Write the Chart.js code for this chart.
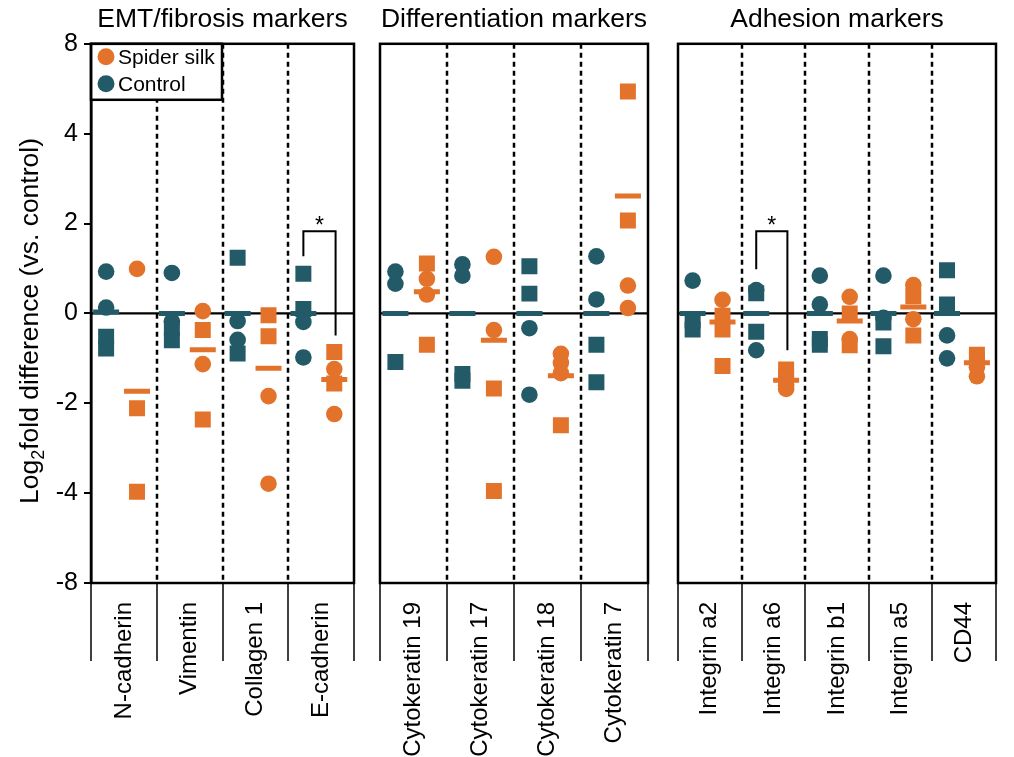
<!DOCTYPE html>
<html>
<head>
<meta charset="utf-8">
<script src="https://cdn.jsdelivr.net/npm/chart.js@4/dist/chart.umd.min.js"></script>
<style>
  html, body { margin: 0; padding: 0; background: #fff; }
  #wrap { position: relative; width: 1014px; height: 757px; }
  #wrap canvas { position: absolute; left: 0; top: 0; }
</style>
</head>
<body>
<div id="wrap">
  <canvas id="panel0" width="1014" height="757"></canvas>
  <canvas id="panel1" width="1014" height="757"></canvas>
  <canvas id="panel2" width="1014" height="757"></canvas>
</div>
<script>
// ---- data -------------------------------------------------------------
const panelTitles = ['EMT/fibrosis markers', 'Differentiation markers', 'Adhesion markers'];
const panelCategories = [
  ['N-cadherin', 'Vimentin', 'Collagen 1', 'E-cadherin'],
  ['Cytokeratin 19', 'Cytokeratin 17', 'Cytokeratin 18', 'Cytokeratin 7'],
  ['Integrin a2', 'Integrin a6', 'Integrin b1', 'Integrin a5', 'CD44']
];
const yTicks = [-8, -4, -2, 0, 2, 4, 8];
const seriesNames = ['Spider silk', 'Control'];

// log2 fold differences per marker (13 markers, in panel order)
const controlCircles = [[0.93, 0.13], [0.90, -0.18], [-0.17, -0.59], [-0.19, -0.98],
  [0.93, 0.66], [1.09, 0.84], [-0.33, -1.81], [1.27, 0.31],
  [0.73], [0.52, -0.82], [0.84, 0.20], [0.84, -0.10], [-0.49, -1.00]];
const controlSquares = [[-0.52, -0.78], [-0.32, -0.60], [1.24, -0.89], [0.88, 0.10],
  [-1.08], [-1.35, -1.50], [1.05, 0.44], [-0.70, -1.53],
  [-0.16, -0.36], [0.45, -0.41], [-0.57, -0.70], [-0.20, -0.73], [0.96, 0.20]];
const controlMeans = [0.03, 0, 0, 0, 0, 0, 0, 0, 0, 0, 0, 0, 0];

const silkCircles = [[0.99], [0.05, -1.13], [-1.84, -3.79], [-1.24, -2.24],
  [0.77, 0.42], [1.26, -0.37], [-0.90, -1.10, -1.33], [0.62, 0.12],
  [0.30], [-1.60, -1.68], [0.37, -0.57], [0.63, -0.13], [-1.20, -1.40]];
const silkSquares = [[-2.11, -3.97], [-0.37, -2.36], [-0.04, -0.51], [-0.86, -1.56],
  [1.11, -0.70], [-1.67, -3.95], [-2.49], [5.88, 2.07],
  [-0.05, -0.36, -1.17], [-1.25, -1.42], [0.00, -0.71], [0.38, -0.49], [-0.92, -1.05]];
const silkMeans = [-1.73, -0.81, -1.22, -1.47, 0.48, -0.60, -1.39, 2.61, -0.19, -1.49, -0.17, 0.14, -1.10];

// significance brackets: bar height and the two leg ends
const sigMarker = ['E-cadherin', 'Integrin a6'];
const sigTop = [1.83, 1.83];
const sigControlEnd = [1.27, 0.98];
const sigSilkEnd = [-0.49, -0.82];

// ---- styling ------------------------------------------------------------
const SILK = '#E3722B';
const CTRL = '#235A68';
const FONT = '"Liberation Sans", Arial, Helvetica, sans-serif';
const CTRL_OFFSET = -0.27, SILK_OFFSET = 0.20;
const areas = [[91, 354], [380, 648], [678, 1012]];
const AXIS_BOTTOM_HEIGHT = 174;

// axis is linear inside ±4 and compressed by half beyond it
const fwd = v => Math.abs(v) <= 4 ? v : Math.sign(v) * (4 + (Math.abs(v) - 4) / 2);
const inv = p => Math.abs(p) <= 4 ? p : Math.sign(p) * (4 + (Math.abs(p) - 4) * 2);

class SegmentedScale extends Chart.LinearScale {
  static id = 'segmented';
  static defaults = Chart.LinearScale.defaults;
  buildTicks() { return yTicks.map(v => ({ value: v })); }
  getPixelForValue(value) {
    const a = fwd(this.min), b = fwd(this.max);
    return this.getPixelForDecimal((fwd(value) - a) / (b - a));
  }
  getValueForPixel(pixel) {
    const a = fwd(this.min), b = fwd(this.max);
    return inv(a + this.getDecimalForPixel(pixel) * (b - a));
  }
}
Chart.register(SegmentedScale);

function scatterPoints(groups, offset) {
  const out = [];
  groups.forEach((arr, i) => arr.forEach(v => out.push({ x: i + offset, y: v })));
  return out;
}
function meanPoints(list, offset) {
  return list.map((v, i) => ({ x: i + offset, y: v }));
}

const decor = {
  id: 'decor',
  beforeDatasetsDraw(chart, args, opts) {
    const { ctx, chartArea: ca, scales: { x, y } } = chart;
    const n = opts.cats.length;
    ctx.save();
    // dashed separators between markers
    ctx.strokeStyle = '#000';
    ctx.lineWidth = 2.5;
    ctx.setLineDash([5, 4]);
    for (let i = 1; i < n; i++) {
      const px = Math.round(x.getPixelForValue(i - 0.5));
      ctx.beginPath();
      ctx.moveTo(px, ca.top);
      ctx.lineTo(px, ca.bottom);
      ctx.stroke();
    }
    ctx.setLineDash([]);
    // zero line
    ctx.lineWidth = 2.2;
    const y0 = y.getPixelForValue(0);
    ctx.beginPath();
    ctx.moveTo(ca.left, y0);
    ctx.lineTo(ca.right, y0);
    ctx.stroke();
    ctx.restore();
  },
  afterDraw(chart, args, opts) {
    const { ctx, chartArea: ca, scales: { x, y } } = chart;
    const n = opts.cats.length;
    ctx.save();
    ctx.strokeStyle = '#000';
    ctx.fillStyle = '#000';
    // separators under the axis
    ctx.lineWidth = 1.5;
    for (let i = 0; i <= n; i++) {
      const px = Math.round(x.getPixelForValue(i - 0.5));
      ctx.beginPath();
      ctx.moveTo(px, ca.bottom);
      ctx.lineTo(px, ca.bottom + 78);
      ctx.stroke();
    }
    // significance brackets
    ctx.lineWidth = 2;
    sigMarker.forEach((name, k) => {
      const i = opts.cats.indexOf(name);
      if (i < 0) return;
      const xa = x.getPixelForValue(i + CTRL_OFFSET);
      const xb = x.getPixelForValue(i + SILK_OFFSET + 0.02);
      const yt = y.getPixelForValue(sigTop[k]);
      ctx.beginPath();
      ctx.moveTo(xa, y.getPixelForValue(sigControlEnd[k]));
      ctx.lineTo(xa, yt);
      ctx.lineTo(xb, yt);
      ctx.lineTo(xb, y.getPixelForValue(sigSilkEnd[k]));
      ctx.stroke();
      ctx.font = '23px ' + FONT;
      ctx.textAlign = 'center';
      ctx.textBaseline = 'alphabetic';
      ctx.fillText('*', (xa + xb) / 2, yt + 2);
    });
    // legend box
    if (opts.legend) {
      const bx = ca.left, by = ca.top, bw = 131, bh = 56;
      ctx.fillStyle = '#fff';
      ctx.fillRect(bx, by, bw, bh);
      ctx.lineWidth = 2.5;
      ctx.strokeRect(bx, by, bw, bh);
      const items = [[seriesNames[0], SILK, by + 13], [seriesNames[1], CTRL, by + 40]];
      ctx.font = '21px ' + FONT;
      ctx.textAlign = 'left';
      ctx.textBaseline = 'middle';
      items.forEach(([label, col, cy]) => {
        ctx.fillStyle = col;
        ctx.beginPath();
        ctx.arc(bx + 15, cy, 8.5, 0, Math.PI * 2);
        ctx.fill();
        ctx.fillStyle = '#000';
        ctx.fillText(label, bx + 27, cy + 1);
      });
    }
    // y-axis title with subscript
    if (opts.yTitle) {
      ctx.translate(31, 321);
      ctx.rotate(-Math.PI / 2);
      ctx.fillStyle = '#000';
      ctx.textBaseline = 'middle';
      ctx.textAlign = 'left';
      const big = '26.5px ' + FONT, small = '18px ' + FONT;
      const p1 = 'Log', p2 = '2', p3 = 'fold difference (vs. control)';
      ctx.font = big; const w1 = ctx.measureText(p1).width, w3 = ctx.measureText(p3).width;
      ctx.font = small; const w2 = ctx.measureText(p2).width;
      let sx = -(w1 + w2 + w3) / 2;
      ctx.font = big; ctx.fillText(p1, sx, 0); sx += w1;
      ctx.font = small; ctx.fillText(p2, sx, 8); sx += w2;
      ctx.font = big; ctx.fillText(p3, sx, 0);
    }
    ctx.restore();
    // panel frame
    ctx.save();
    ctx.strokeStyle = '#000';
    ctx.lineWidth = 2.5;
    ctx.strokeRect(ca.left, ca.top, ca.right - ca.left, ca.bottom - ca.top);
    ctx.restore();
  }
};

let start = 0;
panelCategories.forEach((cats, p) => {
  const end = start + cats.length;
  const sl = arr => arr.slice(start, end);
  const first = p === 0;
  new Chart(document.getElementById('panel' + p), {
    type: 'scatter',
    data: {
      datasets: [
        { label: 'Control mean', data: meanPoints(sl(controlMeans), CTRL_OFFSET),
          pointStyle: 'line', pointRadius: 13, pointBorderWidth: 5, borderColor: CTRL, backgroundColor: CTRL },
        { label: 'Spider silk mean', data: meanPoints(sl(silkMeans), SILK_OFFSET),
          pointStyle: 'line', pointRadius: 13, pointBorderWidth: 5, borderColor: SILK, backgroundColor: SILK },
        { label: 'Control', data: scatterPoints(sl(controlCircles), CTRL_OFFSET),
          pointStyle: 'circle', pointRadius: 8.3, pointBorderWidth: 0, backgroundColor: CTRL, borderColor: CTRL },
        { label: 'Control', data: scatterPoints(sl(controlSquares), CTRL_OFFSET),
          pointStyle: 'rect', pointRadius: 11.3, pointBorderWidth: 0, backgroundColor: CTRL, borderColor: CTRL },
        { label: 'Spider silk', data: scatterPoints(sl(silkCircles), SILK_OFFSET),
          pointStyle: 'circle', pointRadius: 8.3, pointBorderWidth: 0, backgroundColor: SILK, borderColor: SILK },
        { label: 'Spider silk', data: scatterPoints(sl(silkSquares), SILK_OFFSET),
          pointStyle: 'rect', pointRadius: 11.3, pointBorderWidth: 0, backgroundColor: SILK, borderColor: SILK }
      ]
    },
    options: {
      responsive: false,
      animation: false,
      events: [],
      layout: { padding: { left: first ? 0 : areas[p][0], right: 1014 - areas[p][1], top: 0, bottom: 0 } },
      scales: {
        x: {
          type: 'linear',
          min: -0.5, max: cats.length - 0.5,
          afterBuildTicks: s => { s.ticks = cats.map((_, i) => ({ value: i })); },
          afterFit: s => { s.height = AXIS_BOTTOM_HEIGHT; },
          grid: { display: false },
          border: { display: false },
          ticks: {
            autoSkip: false, minRotation: 90, maxRotation: 90, padding: 11,
            color: '#000', font: { size: 24, family: FONT },
            callback: v => cats[v] ?? ''
          }
        },
        y: {
          type: 'segmented',
          min: -8, max: 8,
          display: first,
          afterFit: s => { if (first) s.width = areas[0][0]; },
          grid: { display: true, drawOnChartArea: false, drawTicks: true, tickLength: 7, color: '#000', lineWidth: 2 },
          border: { display: true, color: '#000', width: 2.5 },
          ticks: { color: '#000', padding: 6, font: { size: 25, family: FONT }, callback: v => String(v) }
        }
      },
      plugins: {
        legend: { display: false },
        tooltip: { enabled: false },
        title: {
          display: true, text: panelTitles[p], fullSize: false, color: '#000',
          font: { size: 26.5, family: FONT, weight: 'normal' }, padding: { top: 4, bottom: 8 }
        },
        decor: { cats, legend: first, yTitle: first }
      }
    },
    plugins: [decor]
  });
  start = end;
});
</script>
</body>
</html>
